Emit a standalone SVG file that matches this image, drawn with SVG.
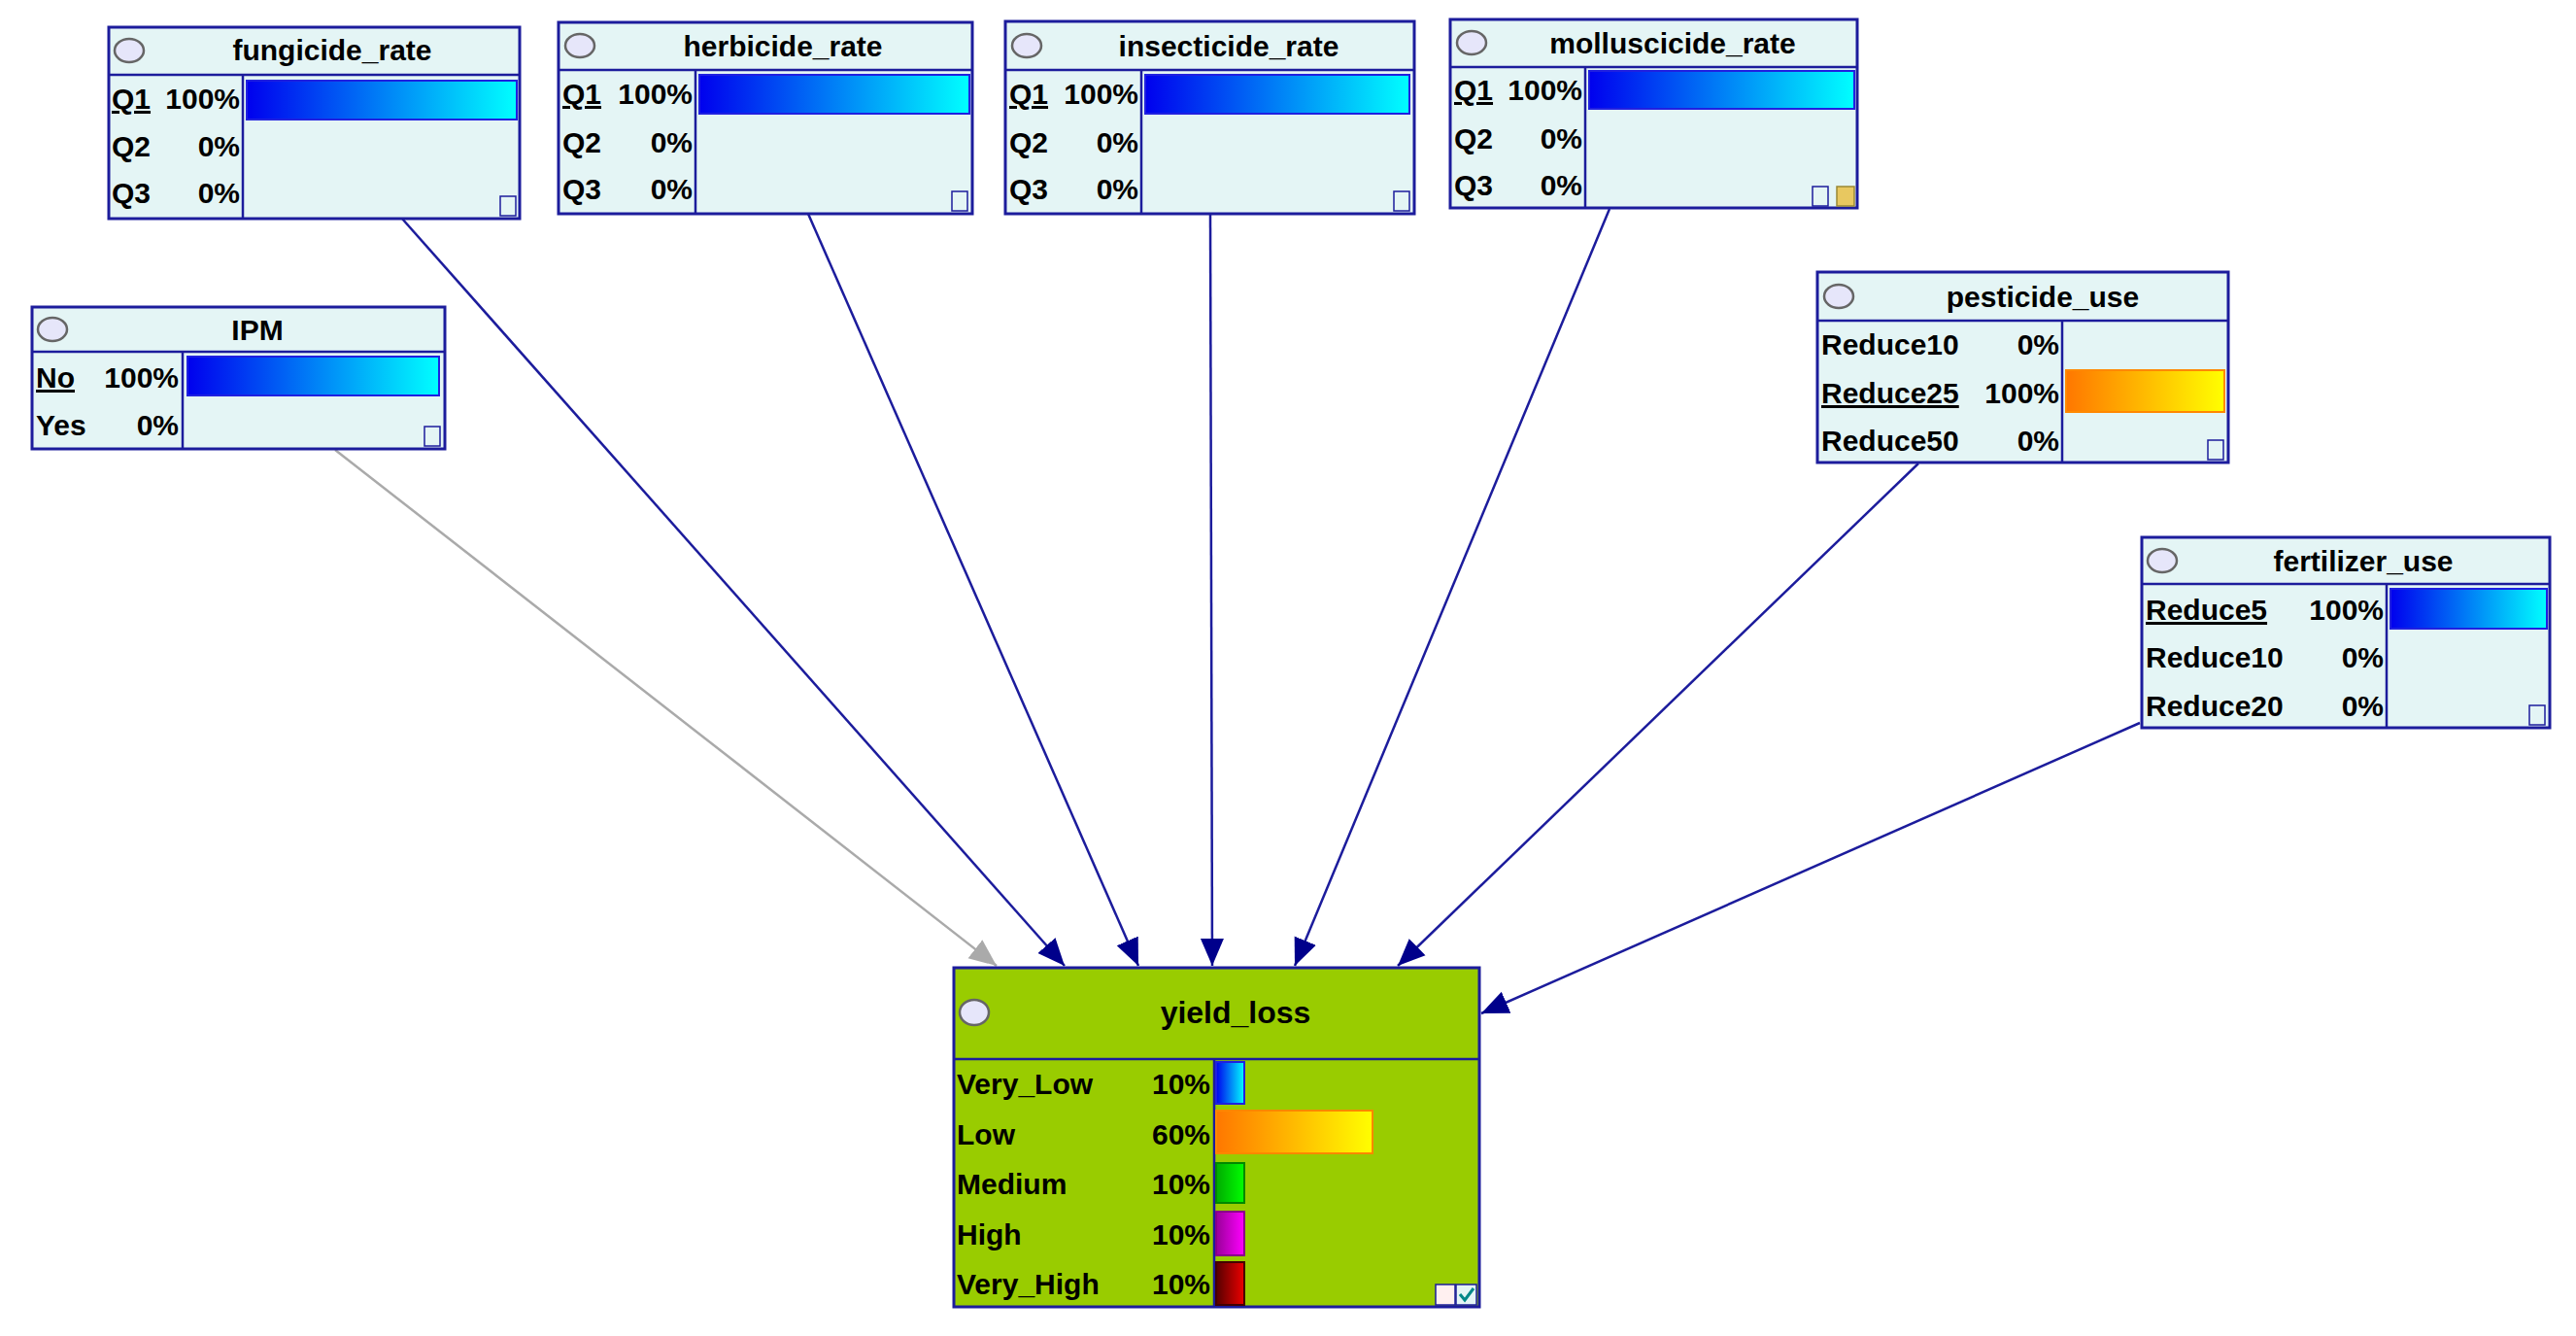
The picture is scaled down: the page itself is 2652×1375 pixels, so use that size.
<svg xmlns="http://www.w3.org/2000/svg" width="2652" height="1375" viewBox="0 0 2652 1375">
<style>
.box{fill:#e4f5f5;stroke:#1c1c9c;stroke-width:3}
.yl{fill:#99cc00;stroke:#1c1c9c;stroke-width:3}
.ln{stroke:#1c1c9c;stroke-width:2.5;fill:none}
.t{font-family:"Liberation Sans",Arial,sans-serif;font-weight:bold;font-size:30px;fill:#000}
.title{text-anchor:middle}
.pc{text-anchor:end}
.sel{text-decoration:underline}
.ov{fill:#e6e6fa;stroke:#666;stroke-width:2.5}
.ic{fill:#e4f5f5;stroke:#1c1c9c;stroke-width:1.5}
.bar{stroke:#2020e0;stroke-width:2}
.obar{stroke:#ff8800;stroke-width:2}
.edge{stroke:#1c1c9c;stroke-width:2.5;fill:none}
</style>
<defs>
<linearGradient id="gb" x1="0" x2="1"><stop offset="0" stop-color="#0000ee"/><stop offset="1" stop-color="#00ffff"/></linearGradient>
<linearGradient id="go" x1="0" x2="1"><stop offset="0" stop-color="#ff7700"/><stop offset="1" stop-color="#ffff00"/></linearGradient>
<linearGradient id="gg" x1="0" x2="1"><stop offset="0" stop-color="#00aa00"/><stop offset="1" stop-color="#00ff00"/></linearGradient>
<linearGradient id="gm" x1="0" x2="1"><stop offset="0" stop-color="#990099"/><stop offset="1" stop-color="#ff00ff"/></linearGradient>
<linearGradient id="gr" x1="0" x2="1"><stop offset="0" stop-color="#550000"/><stop offset="1" stop-color="#ee0000"/></linearGradient>
<marker id="ah" markerUnits="userSpaceOnUse" markerWidth="30" markerHeight="30" viewBox="0 0 30 30" refX="28" refY="15" orient="auto"><path d="M0,3 L28,15 L0,27 z" fill="#00008b"/></marker>
<marker id="ahg" markerUnits="userSpaceOnUse" markerWidth="30" markerHeight="30" viewBox="0 0 30 30" refX="28" refY="15" orient="auto"><path d="M0,3 L28,15 L0,27 z" fill="#aaaaaa"/></marker>
</defs>

<g id="connectors">
<line class="edge" x1="345" y1="463" x2="1026" y2="994" stroke="#aaaaaa" style="stroke:#aaaaaa" marker-end="url(#ahg)"/>
<line class="edge" x1="414" y1="225" x2="1096" y2="994" marker-end="url(#ah)"/>
<line class="edge" x1="832" y1="220" x2="1172" y2="994" marker-end="url(#ah)"/>
<line class="edge" x1="1246" y1="220" x2="1248" y2="994" marker-end="url(#ah)"/>
<line class="edge" x1="1657" y1="215" x2="1333" y2="994" marker-end="url(#ah)"/>
<line class="edge" x1="1975" y1="477" x2="1439" y2="994" marker-end="url(#ah)"/>
<line class="edge" x1="2203" y1="744" x2="1525" y2="1043" marker-end="url(#ah)"/>
</g>

<g id="fungicide_rate">
<rect class="box" x="112" y="28" width="423" height="197"/>
<line class="ln" x1="112" y1="77" x2="535" y2="77"/><line class="ln" x1="250" y1="77" x2="250" y2="225"/>
<ellipse class="ov" cx="133" cy="52" rx="15" ry="12"/>
<text class="t title" x="342" y="62">fungicide_rate</text>
<rect class="bar" x="254" y="83" width="278" height="40" fill="url(#gb)"/>
<text class="t sel" x="115" y="112">Q1</text><text class="t pc" x="247" y="112">100%</text>
<text class="t" x="115" y="161">Q2</text><text class="t pc" x="247" y="161">0%</text>
<text class="t" x="115" y="209">Q3</text><text class="t pc" x="247" y="209">0%</text>
<rect class="ic" x="515" y="202" width="16" height="20"/>
</g>

<g id="herbicide_rate">
<rect class="box" x="575" y="23" width="426" height="197"/>
<line class="ln" x1="575" y1="72" x2="1001" y2="72"/><line class="ln" x1="716" y1="72" x2="716" y2="220"/>
<ellipse class="ov" cx="597" cy="47" rx="15" ry="12"/>
<text class="t title" x="806" y="58">herbicide_rate</text>
<rect class="bar" x="720" y="77" width="278" height="40" fill="url(#gb)"/>
<text class="t sel" x="579" y="107">Q1</text><text class="t pc" x="713" y="107">100%</text>
<text class="t" x="579" y="157">Q2</text><text class="t pc" x="713" y="157">0%</text>
<text class="t" x="579" y="205">Q3</text><text class="t pc" x="713" y="205">0%</text>
<rect class="ic" x="980" y="197" width="16" height="20"/>
</g>

<g id="insecticide_rate">
<rect class="box" x="1035" y="22" width="421" height="198"/>
<line class="ln" x1="1035" y1="72" x2="1456" y2="72"/><line class="ln" x1="1175" y1="72" x2="1175" y2="220"/>
<ellipse class="ov" cx="1057" cy="47" rx="15" ry="12"/>
<text class="t title" x="1265" y="58">insecticide_rate</text>
<rect class="bar" x="1179" y="77" width="272" height="40" fill="url(#gb)"/>
<text class="t sel" x="1039" y="107">Q1</text><text class="t pc" x="1172" y="107">100%</text>
<text class="t" x="1039" y="157">Q2</text><text class="t pc" x="1172" y="157">0%</text>
<text class="t" x="1039" y="205">Q3</text><text class="t pc" x="1172" y="205">0%</text>
<rect class="ic" x="1435" y="197" width="16" height="20"/>
</g>

<g id="molluscicide_rate">
<rect class="box" x="1493" y="20" width="419" height="194"/>
<line class="ln" x1="1493" y1="69" x2="1912" y2="69"/><line class="ln" x1="1632" y1="69" x2="1632" y2="214"/>
<ellipse class="ov" cx="1515" cy="44" rx="15" ry="12"/>
<text class="t title" x="1722" y="55">molluscicide_rate</text>
<rect class="bar" x="1636" y="73" width="273" height="39" fill="url(#gb)"/>
<text class="t sel" x="1497" y="103">Q1</text><text class="t pc" x="1629" y="103">100%</text>
<text class="t" x="1497" y="153">Q2</text><text class="t pc" x="1629" y="153">0%</text>
<text class="t" x="1497" y="201">Q3</text><text class="t pc" x="1629" y="201">0%</text>
<rect class="ic" x="1866" y="192" width="16" height="20"/>
<rect x="1891" y="192" width="18" height="20" fill="#e8c860" stroke="#998833" stroke-width="1.5"/>
</g>

<g id="IPM">
<rect class="box" x="33" y="316" width="425" height="146"/>
<line class="ln" x1="33" y1="362" x2="458" y2="362"/><line class="ln" x1="188" y1="362" x2="188" y2="462"/>
<ellipse class="ov" cx="54" cy="339" rx="15" ry="12"/>
<text class="t title" x="265" y="350">IPM</text>
<rect class="bar" x="193" y="367" width="259" height="40" fill="url(#gb)"/>
<text class="t sel" x="37" y="399">No</text><text class="t pc" x="184" y="399">100%</text>
<text class="t" x="37" y="448">Yes</text><text class="t pc" x="184" y="448">0%</text>
<rect class="ic" x="437" y="439" width="16" height="20"/>
</g>

<g id="pesticide_use">
<rect class="box" x="1871" y="280" width="423" height="196"/>
<line class="ln" x1="1871" y1="330" x2="2294" y2="330"/><line class="ln" x1="2123" y1="330" x2="2123" y2="476"/>
<ellipse class="ov" cx="1893" cy="305" rx="15" ry="12"/>
<text class="t title" x="2103" y="316">pesticide_use</text>
<rect class="obar" x="2127" y="381" width="163" height="43" fill="url(#go)"/>
<text class="t" x="1875" y="365">Reduce10</text><text class="t pc" x="2120" y="365">0%</text>
<text class="t sel" x="1875" y="415">Reduce25</text><text class="t pc" x="2120" y="415">100%</text>
<text class="t" x="1875" y="464">Reduce50</text><text class="t pc" x="2120" y="464">0%</text>
<rect class="ic" x="2273" y="453" width="16" height="20"/>
</g>

<g id="fertilizer_use">
<rect class="box" x="2205" y="553" width="420" height="196"/>
<line class="ln" x1="2205" y1="601" x2="2625" y2="601"/><line class="ln" x1="2457" y1="601" x2="2457" y2="749"/>
<ellipse class="ov" cx="2226" cy="577" rx="15" ry="12"/>
<text class="t title" x="2433" y="588">fertilizer_use</text>
<rect class="bar" x="2461" y="606" width="161" height="41" fill="url(#gb)"/>
<text class="t sel" x="2209" y="638">Reduce5</text><text class="t pc" x="2454" y="638">100%</text>
<text class="t" x="2209" y="687">Reduce10</text><text class="t pc" x="2454" y="687">0%</text>
<text class="t" x="2209" y="737">Reduce20</text><text class="t pc" x="2454" y="737">0%</text>
<rect class="ic" x="2604" y="726" width="16" height="20"/>
</g>

<g id="yield_loss">
<rect class="yl" x="982" y="996" width="541" height="349"/>
<line class="ln" x1="982" y1="1090" x2="1523" y2="1090"/><line class="ln" x1="1250" y1="1090" x2="1250" y2="1345"/>
<ellipse class="ov" cx="1003" cy="1042" rx="15" ry="13"/>
<text class="t title" x="1272" y="1053" style="font-size:32px">yield_loss</text>
<rect x="1252" y="1093" width="29" height="43" fill="url(#gb)" stroke="#2020e0" stroke-width="2"/>
<rect x="1252" y="1143" width="161" height="44" fill="url(#go)" stroke="#ff8800" stroke-width="2"/>
<rect x="1252" y="1197" width="29" height="41" fill="url(#gg)" stroke="#008800" stroke-width="2"/>
<rect x="1252" y="1247" width="29" height="45" fill="url(#gm)" stroke="#880088" stroke-width="2"/>
<rect x="1252" y="1299" width="29" height="44" fill="url(#gr)" stroke="#440000" stroke-width="2"/>
<g style="font-size:32px">
<text class="t" x="985" y="1126">Very_Low</text><text class="t pc" x="1246" y="1126">10%</text>
<text class="t" x="985" y="1178">Low</text><text class="t pc" x="1246" y="1178">60%</text>
<text class="t" x="985" y="1229">Medium</text><text class="t pc" x="1246" y="1229">10%</text>
<text class="t" x="985" y="1281">High</text><text class="t pc" x="1246" y="1281">10%</text>
<text class="t" x="985" y="1332">Very_High</text><text class="t pc" x="1246" y="1332">10%</text>
</g>
<rect x="1478" y="1322" width="20" height="21" fill="#fff0f0" stroke="#1c1c9c" stroke-width="1.5"/>
<rect x="1499" y="1322" width="21" height="21" fill="#e4f5f5" stroke="#1c1c9c" stroke-width="1.5"/>
<path d="M1503,1332 l5,6 l9,-12" fill="none" stroke="#008888" stroke-width="3"/>
</g>
</svg>
